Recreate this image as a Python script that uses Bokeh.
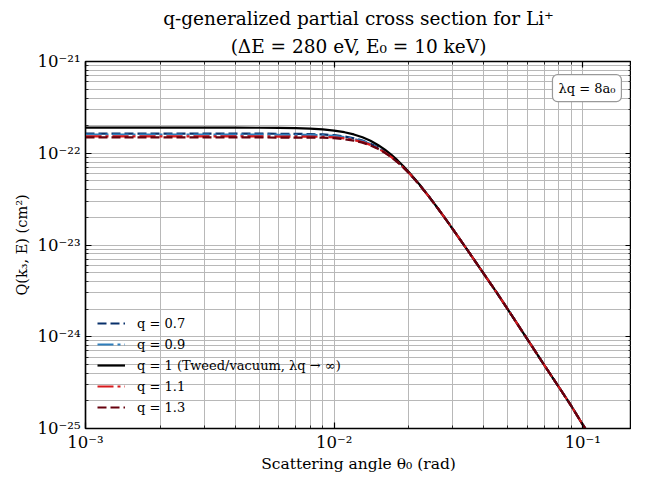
from bokeh.plotting import figure
from bokeh.models import (FixedTicker, CustomJSTickFormatter, LogAxis, Title, Label, Spacer)
from bokeh.layouts import row, column
from bokeh.embed import file_html
from bokeh.resources import INLINE

# ---------------- data ----------------
theta = [0.001, 0.002, 0.003, 0.004, 0.005, 0.006, 0.007, 0.008, 0.009, 0.010,
         0.011, 0.012, 0.013, 0.014, 0.015, 0.016, 0.017, 0.018, 0.019, 0.020,
         0.022, 0.024, 0.026, 0.028, 0.030, 0.035, 0.040, 0.045, 0.050, 0.060,
         0.070, 0.080, 0.090, 0.100, 0.110, 0.120]

Q_q07 = [1.640e-22, 1.640e-22, 1.640e-22, 1.638e-22, 1.636e-22, 1.630e-22, 1.627e-22,
         1.618e-22, 1.602e-22, 1.573e-22, 1.524e-22, 1.457e-22, 1.373e-22, 1.272e-22,
         1.160e-22, 1.041e-22, 9.232e-23, 8.113e-23, 7.066e-23, 6.128e-23, 4.561e-23,
         3.398e-23, 2.551e-23, 1.939e-23, 1.492e-23, 8.20e-24, 4.84e-24, 3.05e-24,
         1.98e-24, 9.3e-25, 4.9e-25, 2.85e-25, 1.75e-25, 1.1e-25, 7.4e-26, 5.2e-26]
Q_q09 = [1.600e-22, 1.600e-22, 1.600e-22, 1.599e-22, 1.596e-22, 1.591e-22, 1.588e-22,
         1.582e-22, 1.569e-22, 1.544e-22, 1.498e-22, 1.434e-22, 1.355e-22, 1.258e-22,
         1.149e-22, 1.033e-22, 9.177e-23, 8.077e-23, 7.041e-23, 6.114e-23, 4.555e-23,
         3.396e-23, 2.550e-23, 1.939e-23, 1.492e-23, 8.20e-24, 4.84e-24, 3.05e-24,
         1.98e-24, 9.3e-25, 4.9e-25, 2.85e-25, 1.75e-25, 1.1e-25, 7.4e-26, 5.2e-26]
Q_q10 = [1.900e-22, 1.900e-22, 1.900e-22, 1.8985e-22, 1.8955e-22, 1.889e-22, 1.876e-22,
         1.854e-22, 1.819e-22, 1.767e-22, 1.696e-22, 1.604e-22, 1.492e-22, 1.366e-22,
         1.231e-22, 1.0935e-22, 9.601e-23, 8.354e-23, 7.224e-23, 6.222e-23, 4.599e-23,
         3.412e-23, 2.556e-23, 1.939e-23, 1.492e-23, 8.20e-24, 4.84e-24, 3.05e-24,
         1.98e-24, 9.3e-25, 4.9e-25, 2.85e-25, 1.75e-25, 1.1e-25, 7.4e-26, 5.2e-26]
Q_q11 = [1.530e-22, 1.530e-22, 1.530e-22, 1.528e-22, 1.526e-22, 1.521e-22, 1.521e-22,
         1.518e-22, 1.510e-22, 1.491e-22, 1.451e-22, 1.394e-22, 1.323e-22, 1.233e-22,
         1.130e-22, 1.019e-22, 9.077e-23, 8.011e-23, 6.999e-23, 6.089e-23, 4.545e-23,
         3.392e-23, 2.549e-23, 1.939e-23, 1.492e-23, 8.20e-24, 4.84e-24, 3.05e-24,
         1.98e-24, 9.3e-25, 4.9e-25, 2.85e-25, 1.75e-25, 1.1e-25, 7.4e-26, 5.2e-26]
Q_q13 = [1.490e-22, 1.490e-22, 1.490e-22, 1.488e-22, 1.486e-22, 1.481e-22, 1.483e-22,
         1.482e-22, 1.477e-22, 1.462e-22, 1.425e-22, 1.372e-22, 1.305e-22, 1.218e-22,
         1.119e-22, 1.011e-22, 9.020e-23, 7.975e-23, 6.974e-23, 6.074e-23, 4.539e-23,
         3.390e-23, 2.548e-23, 1.939e-23, 1.492e-23, 8.20e-24, 4.84e-24, 3.05e-24,
         1.98e-24, 9.3e-25, 4.9e-25, 2.85e-25, 1.75e-25, 1.1e-25, 7.4e-26, 5.2e-26]

series_labels = ["q = 0.7", "q = 0.9", "q = 1 (Tweed/vacuum, λq → ∞)", "q = 1.1", "q = 1.3"]

x_exps = [-3, -2, -1]
x_tick_labels = ["10⁻³", "10⁻²", "10⁻¹"]
y_exps = [-25, -24, -23, -22, -21]
y_tick_labels = ["10⁻²⁵", "10⁻²⁴", "10⁻²³", "10⁻²²", "10⁻²¹"]

title_line1 = "q-generalized partial cross section for Li⁺"
title_line2 = "(ΔE = 280 eV, E₀ = 10 keV)"
x_label = "Scattering angle θ₀ (rad)"
y_label = "Q(k₃, E) (cm²)"
note_text = "λq = 8a₀"

# ---------------- styling ----------------
FONT = "DejaVu Serif"
GRID = "#b8b8b8"

p = figure(x_axis_type="log", y_axis_type="log",
           x_range=(1e-3, 0.157), y_range=(1e-25, 1e-21),
           width=621, height=470,
           min_border_left=0, min_border_right=0, min_border_top=0,
           min_border_bottom=0,
           output_backend="svg", toolbar_location=None, title=None)

p.background_fill_color = "white"
p.border_fill_color = "white"
p.outline_line_color = "black"
p.outline_line_width = 1.5


def ticks_for(exps):
    major = [10.0 ** e for e in exps]
    minor = [m * 10.0 ** e for e in range(exps[0] - 1, exps[-1] + 1) for m in range(1, 10)]
    return FixedTicker(ticks=major, minor_ticks=minor)


xt = ticks_for(x_exps)
yt = ticks_for(y_exps)

fmt_code = """
const e = Math.round(Math.log10(tick));
const i = exps.indexOf(e);
return i >= 0 ? labels[i] : "";
"""
xfmt = CustomJSTickFormatter(args=dict(exps=x_exps, labels=x_tick_labels), code=fmt_code)
yfmt = CustomJSTickFormatter(args=dict(exps=y_exps, labels=y_tick_labels), code=fmt_code)
blank = CustomJSTickFormatter(code="return '';")


def style_axis(ax):
    ax.axis_line_color = "black"
    ax.axis_line_width = 1.2
    ax.major_tick_in = 6
    ax.major_tick_out = 0
    ax.minor_tick_in = 3
    ax.minor_tick_out = 0
    ax.major_tick_line_color = "black"
    ax.minor_tick_line_color = "black"
    ax.major_tick_line_width = 1.2
    ax.minor_tick_line_width = 0.8
    ax.major_label_text_font = FONT
    ax.major_label_text_font_size = "16.5px"
    ax.major_label_text_color = "black"
    ax.axis_label_text_font = FONT
    ax.axis_label_text_font_size = "14.5px"
    ax.axis_label_text_font_style = "normal"
    ax.axis_label_text_color = "black"


p.xaxis.ticker = xt
p.xaxis.formatter = xfmt
p.yaxis.ticker = yt
p.yaxis.formatter = yfmt
p.xaxis.axis_label = x_label
p.yaxis.axis_label = y_label
for ax in p.xaxis + p.yaxis:
    style_axis(ax)
p.xaxis.axis_label_text_font_size = "15.5px"
p.xaxis.major_label_standoff = 4
p.yaxis.major_label_standoff = 5
p.xaxis.axis_label_standoff = 0
p.yaxis.axis_label_standoff = 5

top_ax = LogAxis(ticker=xt, formatter=blank)
right_ax = LogAxis(ticker=yt, formatter=blank)
for ax in (top_ax, right_ax):
    style_axis(ax)
    ax.major_label_text_font_size = "0px"
    ax.major_label_standoff = 0
p.add_layout(top_ax, "above")
p.add_layout(right_ax, "right")

p.xgrid.ticker = xt
p.ygrid.ticker = yt
for g in (p.xgrid, p.ygrid):
    g.grid_line_color = GRID
    g.grid_line_width = 1
    g.minor_grid_line_color = GRID
    g.minor_grid_line_width = 1

# titles
t2 = Title(text=title_line2, align="center", text_font=FONT, text_font_size="18.5px",
           text_font_style="normal", text_color="black", standoff=10)
t1 = Title(text=title_line1, align="center", text_font=FONT, text_font_size="18.5px",
           text_font_style="normal", text_color="black", standoff=0)
p.add_layout(t2, "above")
p.add_layout(t1, "above")

# curves
styles = [
    (Q_q07, "#08306b", "9 4", 2.2),
    (Q_q09, "#2f7ebc", "16 4 3 4", 2.2),
    (Q_q10, "#000000", "solid", 2.2),
    (Q_q11, "#d7191c", "16 4 3 4", 2.2),
    (Q_q13, "#67000d", "9 4", 2.2),
]
for (vals, col, dash, lw), lab in zip(styles, series_labels):
    p.line(theta, vals, line_color=col, line_dash=dash, line_width=lw, legend_label=lab)

leg = p.legend[0]
leg.location = "bottom_left"
leg.border_line_alpha = 0
leg.background_fill_alpha = 0
leg.label_text_font = FONT
leg.label_text_font_size = "13px"
leg.label_text_color = "black"
leg.glyph_width = 28
leg.glyph_height = 18
leg.label_height = 18
leg.spacing = 3
leg.label_standoff = 12
leg.margin = 6
leg.padding = 6

note = Label(x=0.143, y=7.2e-22, text=note_text, text_align="right", text_baseline="top",
             text_font=FONT, text_font_size="13px", text_color="black",
             border_line_color="#999999", border_line_width=1.2,
             background_fill_color="white", padding=6, border_radius=5)
p.add_layout(note)

layout = column(Spacer(height=5), row(Spacer(width=10), p))
open("out.html", "w").write(file_html(layout, INLINE))
